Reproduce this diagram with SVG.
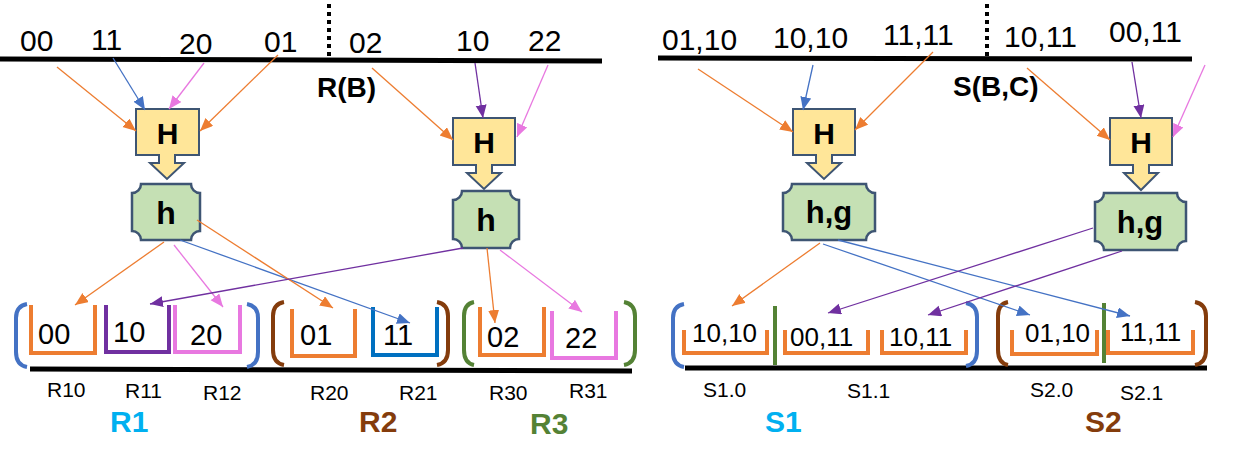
<svg xmlns="http://www.w3.org/2000/svg" width="1233" height="468" viewBox="0 0 1233 468">
<style>
.num{font-family:"Liberation Sans",Arial,sans-serif;font-size:30px;fill:#000}
.bnum{font-family:"Liberation Sans",Arial,sans-serif;font-size:29px;fill:#000}
.snum{font-family:"Liberation Sans",Arial,sans-serif;font-size:26px;fill:#000}
.lab{font-family:"Liberation Sans",Arial,sans-serif;font-size:21px;fill:#000}
.bold{font-family:"Liberation Sans",Arial,sans-serif;font-weight:bold}
.big{font-family:"Liberation Sans",Arial,sans-serif;font-weight:bold;font-size:30px}
.axis{stroke:#000;stroke-width:5;fill:none}
.dot{stroke:#000;stroke-width:4;stroke-dasharray:4 4;fill:none}
.Hbox{fill:#FFE699;stroke:#3E5573;stroke-width:2}
.hbox{fill:#C5E0B4;stroke:#3E5573;stroke-width:2.5}
.bk{fill:none;stroke-width:4}
.c{fill:none;stroke-width:1.3}
.or{stroke:#ED7D31}.bl{stroke:#4472C4}.pk{stroke:#E878E0}.pu{stroke:#7030A0}
</style>
<defs>
<marker id="aor" markerUnits="userSpaceOnUse" markerWidth="14" markerHeight="12" refX="13" refY="5.5" orient="auto"><path d="M0,0 L13,5.5 L0,11 z" fill="#ED7D31"/></marker>
<marker id="abl" markerUnits="userSpaceOnUse" markerWidth="14" markerHeight="12" refX="13" refY="5.5" orient="auto"><path d="M0,0 L13,5.5 L0,11 z" fill="#4472C4"/></marker>
<marker id="apk" markerUnits="userSpaceOnUse" markerWidth="14" markerHeight="12" refX="13" refY="5.5" orient="auto"><path d="M0,0 L13,5.5 L0,11 z" fill="#E878E0"/></marker>
<marker id="apu" markerUnits="userSpaceOnUse" markerWidth="14" markerHeight="12" refX="13" refY="5.5" orient="auto"><path d="M0,0 L13,5.5 L0,11 z" fill="#7030A0"/></marker>
</defs>

<!-- axes -->
<g id="axes">
<line class="axis" x1="0" y1="59" x2="602" y2="61"/>
<line class="axis" x1="658" y1="58" x2="1192" y2="59"/>
<line class="axis" x1="30" y1="369" x2="632" y2="371"/>
<line class="axis" x1="685" y1="368" x2="1207" y2="368"/>
<line class="dot" x1="329" y1="4" x2="329" y2="58"/>
<line class="dot" x1="987" y1="4" x2="987" y2="57"/>
</g>

<!-- top labels -->
<g id="keysR">
<text class="num" x="20" y="51">00</text>
<text class="num" x="91" y="50">11</text>
<text class="num" x="179" y="54">20</text>
<text class="num" x="264" y="52">01</text>
<text class="num" x="349" y="53">02</text>
<text class="num" x="456" y="51">10</text>
<text class="num" x="528" y="51">22</text>
<text class="bold" x="317" y="97" font-size="28">R(B)</text>
</g>
<g id="keysS">
<text class="num" x="662" y="50">01,10</text>
<text class="num" x="773" y="48">10,10</text>
<text class="num" x="883" y="45">11,11</text>
<text class="num" x="1004" y="47">10,11</text>
<text class="num" x="1109" y="42">00,11</text>
<text class="bold" x="953" y="96" font-size="28">S(B,C)</text>
</g>

<!-- H nodes -->
<g id="H1"><path class="Hbox" d="M136,109 H199 V155 H175 V163 H184 L167,179 L150,163 H159 V155 H136 Z"/><text class="bold" x="167.5" y="144" font-size="30" text-anchor="middle">H</text></g>
<g id="H2"><path class="Hbox" d="M453,118 H515 V165 H492 V173 H501 L484,189 L467,173 H476 V165 H453 Z"/><text class="bold" x="484" y="153" font-size="30" text-anchor="middle">H</text></g>
<g id="H3"><path class="Hbox" d="M793,109 H855 V155 H832 V163 H841 L824,179 L807,163 H816 V155 H793 Z"/><text class="bold" x="824" y="144" font-size="30" text-anchor="middle">H</text></g>
<g id="H4"><path class="Hbox" d="M1110,118 H1172 V165 H1149 V173 H1158 L1141,190 L1124,173 H1133 V165 H1110 Z"/><text class="bold" x="1141" y="153" font-size="30" text-anchor="middle">H</text></g>

<!-- h nodes -->
<g id="h1"><path class="hbox" d="M141,184 H191 A9 9 0 0 0 200,193 V231 A9 9 0 0 0 191,240 H141 A9 9 0 0 0 132,231 V193 A9 9 0 0 0 141,184 Z"/><text class="bold" x="166" y="224" font-size="32" text-anchor="middle">h</text></g>
<g id="h2"><path class="hbox" d="M462,191 H510 A9 9 0 0 0 519,200 V239 A9 9 0 0 0 510,248 H462 A9 9 0 0 0 453,239 V200 A9 9 0 0 0 462,191 Z"/><text class="bold" x="486" y="231" font-size="32" text-anchor="middle">h</text></g>
<g id="hg1"><path class="hbox" d="M792,184 H866 A9 9 0 0 0 875,193 V231 A9 9 0 0 0 866,240 H792 A9 9 0 0 0 783,231 V193 A9 9 0 0 0 792,184 Z"/><text class="bold" x="829" y="223" font-size="31" text-anchor="middle">h,g</text></g>
<g id="hg2"><path class="hbox" d="M1104,193 H1177 A9 9 0 0 0 1186,202 V241 A9 9 0 0 0 1177,250 H1104 A9 9 0 0 0 1095,241 V202 A9 9 0 0 0 1104,193 Z"/><text class="bold" x="1140" y="233" font-size="31" text-anchor="middle">h,g</text></g>

<!-- R partitions -->
<g id="R1">
<path class="bk" stroke="#4472C4" d="M27,304 Q16,306 16,318 V352 Q16,365 27,367"/>
<path class="bk" stroke="#4472C4" d="M247,304 Q258,306 258,318 V352 Q258,365 247,367"/>
<path class="bk" stroke="#ED7D31" d="M31,305 V353 H95 V305"/>
<text class="bnum" x="38" y="344">00</text>
<path class="bk" stroke="#7030A0" d="M106,305 V352 H169 V305"/>
<text class="bnum" x="113" y="342">10</text>
<path class="bk" stroke="#E878E0" d="M175,305 V352 H240 V305"/>
<text class="bnum" x="190" y="345">20</text>
<text class="lab" x="47" y="397">R10</text>
<text class="lab" x="125" y="398">R11</text>
<text class="lab" x="203" y="400">R12</text>
<text class="big" x="110" y="432" fill="#00B0F0">R1</text>
</g>
<g id="R2">
<path class="bk" stroke="#843C0C" d="M284,302 Q273,304 273,316 V350 Q273,363 284,365"/>
<path class="bk" stroke="#843C0C" d="M437,302 Q448,304 448,316 V350 Q448,363 437,365"/>
<path class="bk" stroke="#ED7D31" d="M292,309 V356 H355 V309"/>
<text class="bnum" x="300" y="345">01</text>
<path class="bk" stroke="#0070C0" d="M373,307 V355 H437 V307"/>
<text class="bnum" x="383" y="345">11</text>
<text class="lab" x="310" y="400">R20</text>
<text class="lab" x="399" y="400">R21</text>
<text class="big" x="359" y="432" fill="#843C0C">R2</text>
</g>
<g id="R3">
<path class="bk" stroke="#548235" d="M474,302 Q464,304 464,316 V350 Q464,363 474,365"/>
<path class="bk" stroke="#548235" d="M624,302 Q635,304 635,316 V350 Q635,363 624,365"/>
<path class="bk" stroke="#ED7D31" d="M480,307 V355 H544 V307"/>
<text class="bnum" x="487" y="347">02</text>
<path class="bk" stroke="#E878E0" d="M552,311 V358 H616 V311"/>
<text class="bnum" x="565" y="348">22</text>
<text class="lab" x="489" y="400">R30</text>
<text class="lab" x="569" y="398">R31</text>
<text class="big" x="530" y="434" fill="#548235">R3</text>
</g>

<!-- S partitions -->
<g id="S1">
<path class="bk" stroke="#4472C4" d="M684,304 Q673,306 673,318 V352 Q673,365 684,367"/>
<path class="bk" stroke="#4472C4" d="M966,303 Q977,305 977,317 V351 Q977,364 966,366"/>
<path class="bk" stroke="#ED7D31" d="M684,330 V353 H767 V330"/>
<text class="snum" x="692" y="342">10,10</text>
<line class="bk" stroke="#548235" x1="775" y1="306" x2="775" y2="365"/>
<path class="bk" stroke="#ED7D31" d="M785,330 V353 H868 V330"/>
<text class="snum" x="790" y="346">00,11</text>
<path class="bk" stroke="#ED7D31" d="M882,330 V353 H966 V330"/>
<text class="snum" x="889" y="346">10,11</text>
<text class="lab" x="703" y="397">S1.0</text>
<text class="lab" x="847" y="398">S1.1</text>
<text class="big" x="765" y="432" fill="#00B0F0">S1</text>
</g>
<g id="S2">
<path class="bk" stroke="#843C0C" d="M1008,302 Q998,304 998,316 V350 Q998,363 1008,365"/>
<path class="bk" stroke="#843C0C" d="M1195,302 Q1206,304 1206,316 V350 Q1206,363 1195,365"/>
<path class="bk" stroke="#ED7D31" d="M1012,330 V354 H1097 V330"/>
<text class="snum" x="1025" y="342">01,10</text>
<line class="bk" stroke="#548235" x1="1104" y1="303" x2="1104" y2="363"/>
<path class="bk" stroke="#ED7D31" d="M1108,330 V353 H1193 V330"/>
<text class="snum" x="1120" y="341">11,11</text>
<text class="lab" x="1030" y="397">S2.0</text>
<text class="lab" x="1120" y="400">S2.1</text>
<text class="big" x="1085" y="432" fill="#843C0C">S2</text>
</g>

<!-- connectors -->
<g id="connectors">
<line class="c or" x1="57" y1="67" x2="136" y2="131" marker-end="url(#aor)"/>
<line class="c bl" x1="113" y1="58" x2="145" y2="110" marker-end="url(#abl)"/>
<line class="c pk" x1="204" y1="63" x2="169" y2="109" marker-end="url(#apk)"/>
<line class="c or" x1="278" y1="55" x2="200" y2="131" marker-end="url(#aor)"/>
<line class="c or" x1="372" y1="68" x2="453" y2="140" marker-end="url(#aor)"/>
<line class="c pu" x1="475" y1="63" x2="483" y2="118" marker-end="url(#apu)"/>
<line class="c pk" x1="548" y1="65" x2="517" y2="137" marker-end="url(#apk)"/>

<line class="c or" x1="698" y1="69" x2="793" y2="132" marker-end="url(#aor)"/>
<line class="c bl" x1="813" y1="65" x2="803" y2="110" marker-end="url(#abl)"/>
<line class="c or" x1="933" y1="52" x2="855" y2="130" marker-end="url(#aor)"/>
<line class="c or" x1="1027" y1="68" x2="1110" y2="140" marker-end="url(#aor)"/>
<line class="c pu" x1="1132" y1="62" x2="1141" y2="118" marker-end="url(#apu)"/>
<line class="c pk" x1="1205" y1="65" x2="1173" y2="137" marker-end="url(#apk)"/>

<line class="c or" x1="164" y1="242" x2="75" y2="305" marker-end="url(#aor)"/>
<line class="c pk" x1="174" y1="245" x2="223" y2="307" marker-end="url(#apk)"/>
<line class="c bl" x1="180" y1="240" x2="410" y2="323" marker-end="url(#abl)"/>
<line class="c or" x1="197" y1="220" x2="333" y2="308" marker-end="url(#aor)"/>
<line class="c pu" x1="463" y1="248" x2="150" y2="304" marker-end="url(#apu)"/>
<line class="c or" x1="487" y1="248" x2="495" y2="323" marker-end="url(#aor)"/>
<line class="c pk" x1="500" y1="250" x2="582" y2="312" marker-end="url(#apk)"/>

<line class="c or" x1="820" y1="243" x2="732" y2="306" marker-end="url(#aor)"/>
<line class="c bl" x1="823" y1="244" x2="1030" y2="315" marker-end="url(#abl)"/>
<line class="c bl" x1="838" y1="240" x2="1130" y2="316" marker-end="url(#abl)"/>
<line class="c pu" x1="1093" y1="228" x2="828" y2="313" marker-end="url(#apu)"/>
<line class="c pu" x1="1122" y1="251" x2="928" y2="315" marker-end="url(#apu)"/>
</g>
</svg>
